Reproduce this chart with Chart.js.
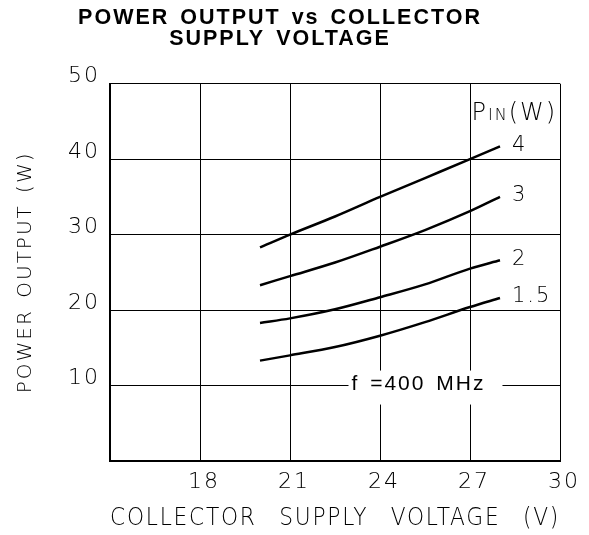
<!DOCTYPE html>
<html>
<head>
<meta charset="utf-8">
<script src="https://cdn.jsdelivr.net/npm/chart.js@4.4.0/dist/chart.umd.min.js"></script>
<style>
  html, body { margin: 0; padding: 0; background: #fff; }
  #chart { display: block; }
</style>
</head>
<body>
<canvas id="chart" width="589" height="535"></canvas>
<script>
// values (collector supply voltage in V, output in W)
const voltage = [20, 21, 22.5, 24, 25.5, 27, 28];
const pout4 = [28.3, 30.0, 32.4, 35.0, 37.5, 40.0, 41.7];
const pout3 = [23.3, 24.5, 26.3, 28.4, 30.6, 33.1, 35.0];
const pout2 = [18.3, 18.9, 20.1, 21.7, 23.4, 25.5, 26.6];
const pout15 = [13.3, 14.0, 15.1, 16.6, 18.4, 20.4, 21.6];
const pinLabels = ['4', '3', '2', '1.5'];
const xTicks = [18, 21, 24, 27, 30];
const yTicks = [10, 20, 30, 40, 50];
const titleLines = ['POWER OUTPUT vs COLLECTOR', 'SUPPLY VOLTAGE'];
const freqNote = 'f =400 MHz';

const tickFont = { family: '"DejaVu Sans"', size: 22, weight: '200' };

function toPoints(values) {
  return values.map((v, i) => ({ x: voltage[i], y: v }));
}

const series = [pout4, pout3, pout2, pout15].map((vals, i) => ({
  label: pinLabels[i],
  data: toPoints(vals),
  borderColor: '#000',
  borderWidth: 2.5,
  pointRadius: 0,
  fill: false,
  cubicInterpolationMode: 'monotone'
}));

const annotations = {
  id: 'annotations',
  beforeDraw(chart) {
    // the plotter font on the sheet is widely spaced
    chart.ctx.letterSpacing = '2px';
    chart.ctx.wordSpacing = '3px';
  },
  afterDatasetsDraw(chart) {
    const { ctx, scales: { x, y } } = chart;
    ctx.save();
    ctx.fillStyle = '#000';
    ctx.textAlign = 'left';

    // curve labels at the end of each line
    ctx.font = '200 21px "DejaVu Sans"';
    ctx.textBaseline = 'middle';
    chart.data.datasets.forEach(ds => {
      const last = ds.data[ds.data.length - 1];
      ctx.fillText(ds.label, x.getPixelForValue(last.x) + 12, y.getPixelForValue(last.y) - 1);
    });

    // P_IN(W) header
    ctx.textBaseline = 'alphabetic';
    let px = x.getPixelForValue(27.05);
    const py = y.getPixelForValue(45.2);
    ctx.font = '200 24px "DejaVu Sans"';
    ctx.fillText('P', px, py);
    px += ctx.measureText('P').width;
    ctx.font = '200 16px "DejaVu Sans"';
    ctx.fillText('IN', px, py);
    px += ctx.measureText('IN').width;
    ctx.font = '200 24px "DejaVu Sans"';
    ctx.fillText('(W)', px, py);

    // frequency note sits on the 10 W grid line
    ctx.font = '21px "Liberation Sans"';
    ctx.textBaseline = 'middle';
    const fx = x.getPixelForValue(23.05);
    const fy = y.getPixelForValue(10);
    const w = ctx.measureText(freqNote).width;
    ctx.fillStyle = '#fff';
    ctx.fillRect(fx - 3, fy - 15, w + 20, 34);
    ctx.fillStyle = '#000';
    ctx.fillText(freqNote, fx, fy - 1);
    ctx.restore();
  }
};

Chart.defaults.color = '#000';

new Chart(document.getElementById('chart'), {
  type: 'line',
  data: { datasets: series },
  options: {
    responsive: false,
    animation: false,
    layout: { padding: { left: 0, right: 29, top: 0, bottom: 0 } },
    plugins: {
      legend: { display: false },
      tooltip: { enabled: false },
      title: {
        display: true,
        text: titleLines,
        color: '#000',
        font: { family: '"Liberation Sans"', size: 21.5, weight: 'bold', lineHeight: 0.97 },
        padding: { top: 8, bottom: 34 }
      }
    },
    scales: {
      x: {
        type: 'linear',
        min: 15,
        max: 30,
        afterFit(scale) { scale.height = 74; },
        afterBuildTicks(scale) {
          scale.ticks = [15].concat(xTicks).map(v => ({ value: v }));
        },
        ticks: {
          font: tickFont,
          padding: 8,
          labelOffset: 4,
          maxRotation: 0,
          callback: v => (xTicks.includes(v) ? String(v) : '')
        },
        grid: { color: '#000', lineWidth: 1, drawTicks: false },
        border: { display: true, color: '#000', width: 2 },
        title: {
          display: true,
          text: 'COLLECTOR  SUPPLY  VOLTAGE  (V)',
          font: { family: '"DejaVu Sans"', size: 25, weight: '200', lineHeight: 1 },
          padding: { top: 0, bottom: 4 }
        }
      },
      y: {
        min: 0,
        max: 50,
        afterFit(scale) { scale.width = 110; },
        afterBuildTicks(scale) {
          scale.ticks = [0].concat(yTicks).map(v => ({ value: v }));
        },
        ticks: {
          font: tickFont,
          padding: 10,
          labelOffset: -7,
          callback: v => (yTicks.includes(v) ? String(v) : '')
        },
        grid: { color: '#000', lineWidth: 1, drawTicks: false },
        border: { display: true, color: '#000', width: 2 },
        title: {
          display: true,
          text: 'POWER OUTPUT (W)',
          font: { family: '"DejaVu Sans"', size: 20, weight: '200', lineHeight: 1 },
          padding: { top: 16, bottom: 0 }
        }
      }
    }
  },
  plugins: [annotations]
});
</script>
</body>
</html>
